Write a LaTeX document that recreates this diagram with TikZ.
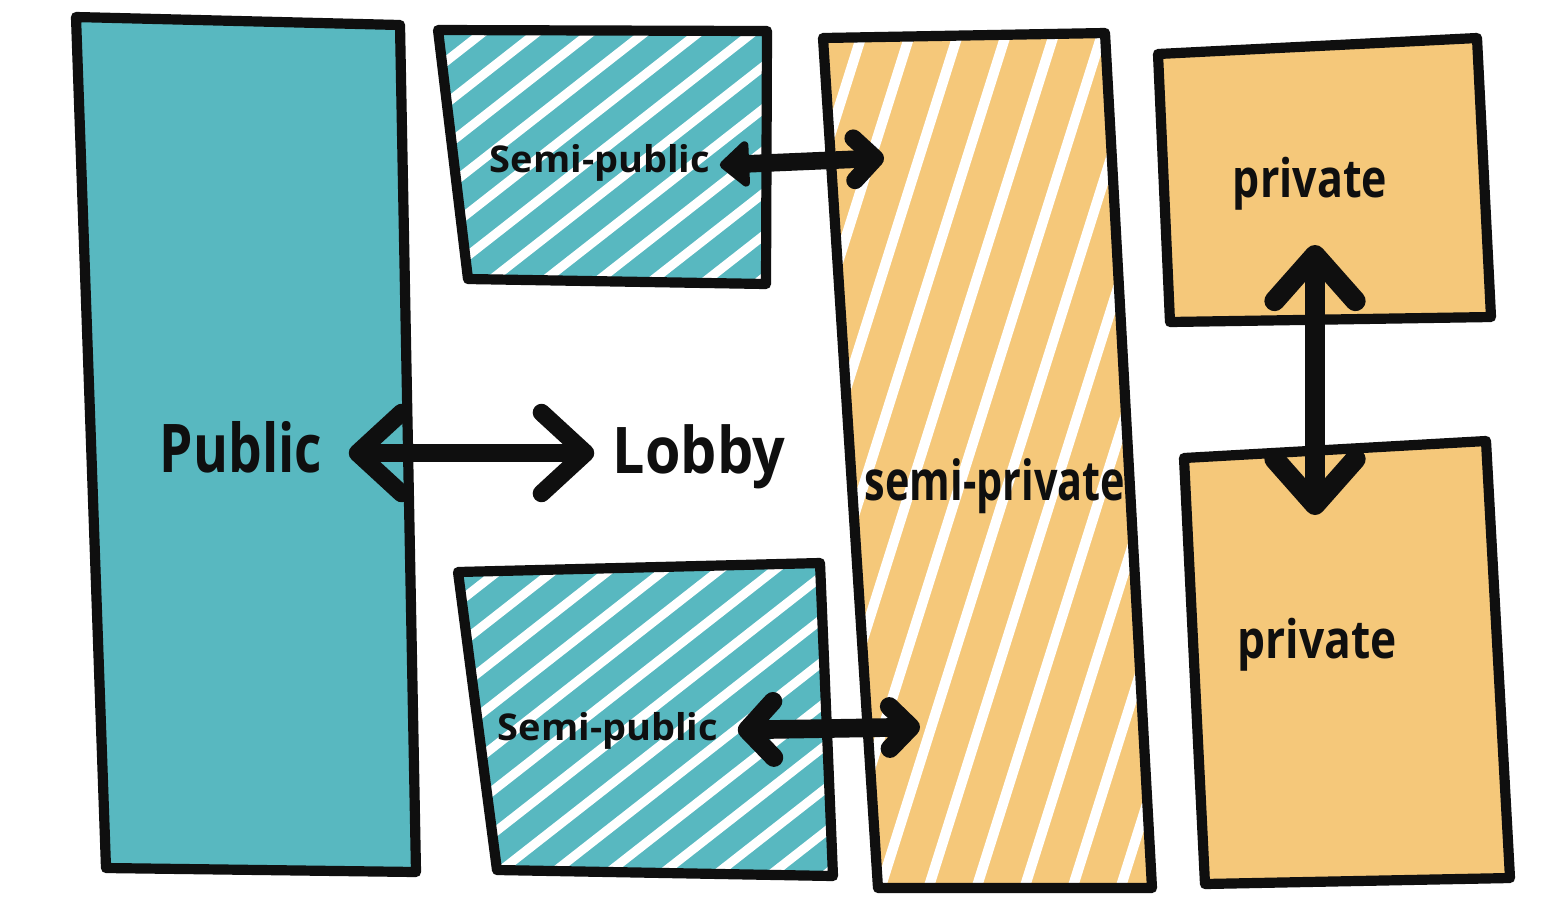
\documentclass[tikz,border=0pt]{standalone}
\usepackage{fontspec}
\setmainfont{Open Sans}
\usetikzlibrary{arrows.meta,calc}
\definecolor{tealfill}{RGB}{88,184,192}
\definecolor{orangefill}{RGB}{245,200,122}
\definecolor{ink}{RGB}{15,15,15}
\tikzset{
  outline/.style={draw=ink, line width=2.9pt, line join=round, line cap=round},
  stripe/.style={white, line width=2.6pt},
  lbl/.style={inner sep=0pt, anchor=base, text=ink, font=\bfseries},
  conn/.style={draw=ink, line width=5pt, line cap=round, line join=round},
}
\begin{document}
\begin{tikzpicture}[x=0.01cm, y=-0.01cm]
\useasboundingbox (0,0) rectangle (1542,899);
\fill[white] (0,0) rectangle (1542,899);

% corner coordinates
\coordinate (pu1) at (76,17);   \coordinate (pu2) at (400,25);
\coordinate (pu3) at (416,872); \coordinate (pu4) at (106,868);
\coordinate (sa1) at (438,30);  \coordinate (sa2) at (767,31);
\coordinate (sa3) at (766,284); \coordinate (sa4) at (468,279);
\coordinate (sb1) at (458,572); \coordinate (sb2) at (820,563);
\coordinate (sb3) at (833,876); \coordinate (sb4) at (497,870);
\coordinate (sp1) at (823,38);  \coordinate (sp2) at (1105,33);
\coordinate (sp3) at (1152,888);\coordinate (sp4) at (878,888);
\coordinate (pa1) at (1158,54); \coordinate (pa2) at (1477,38);
\coordinate (pa3) at (1491,317);\coordinate (pa4) at (1170,322);
\coordinate (pb1) at (1184,458);\coordinate (pb2) at (1486,441);
\coordinate (pb3) at (1510,878);\coordinate (pb4) at (1205,884);

% Public
\fill[tealfill] (pu1) -- (pu2) -- (pu3) -- (pu4) -- cycle;
% Semi-public top
\fill[tealfill] (sa1) -- (sa2) -- (sa3) -- (sa4) -- cycle;
\begin{scope}
  \clip (sa1) -- (sa2) -- (sa3) -- (sa4) -- cycle;
  \foreach \k in {-3,...,13} \draw[stripe] (320+54*\k,160) ++(-600,470) -- ++(1200,-940);
\end{scope}
% Semi-public bottom
\fill[tealfill] (sb1) -- (sb2) -- (sb3) -- (sb4) -- cycle;
\begin{scope}
  \clip (sb1) -- (sb2) -- (sb3) -- (sb4) -- cycle;
  \foreach \k in {-2,...,15} \draw[stripe] (308+55*\k,720) ++(-600,470) -- ++(1200,-940);
\end{scope}
% Semi-private
\fill[orangefill] (sp1) -- (sp2) -- (sp3) -- (sp4) -- cycle;
\begin{scope}
  \clip (sp1) -- (sp2) -- (sp3) -- (sp4) -- cycle;
  \foreach \k in {-2,...,13} \draw[stripe, line width=2.9pt] (858+48*\k,47) ++(60,-190) -- ++(-360,1140);
\end{scope}
% Private
\fill[orangefill] (pa1) -- (pa2) -- (pa3) -- (pa4) -- cycle;
\fill[orangefill] (pb1) -- (pb2) -- (pb3) -- (pb4) -- cycle;

% outlines
\draw[outline] (pu1) -- (pu2) -- (pu3) -- (pu4) -- cycle;
\draw[outline] (sa1) -- (sa2) -- (sa3) -- (sa4) -- cycle;
\draw[outline] (sb1) -- (sb2) -- (sb3) -- (sb4) -- cycle;
\draw[outline] (sp1) -- (sp2) -- (sp3) -- (sp4) -- cycle;
\draw[outline] (pa1) -- (pa2) -- (pa3) -- (pa4) -- cycle;
\draw[outline] (pb1) -- (pb2) -- (pb3) -- (pb4) -- cycle;

% labels
\node[lbl] (public) at (241,472) {\resizebox{1.62cm}{\height}{\fontsize{19.1}{22}\selectfont Public}};
\node[lbl] (lobby) at (699,473) {\resizebox{1.72cm}{\height}{\fontsize{18.3}{22}\selectfont Lobby}};
\node[lbl] (spub1) at (600,172) {\resizebox{2.20cm}{\height}{\fontsize{10.5}{12}\selectfont Semi-public}};
\node[lbl] (spub2) at (608,740) {\resizebox{2.20cm}{\height}{\fontsize{10.5}{12}\selectfont Semi-public}};
\node[lbl] (spriv) at (995,500) {\resizebox{2.60cm}{\height}{\fontsize{15.7}{18}\selectfont semi-private}};
\node[lbl] (priv1) at (1310,197) {\resizebox{1.54cm}{\height}{\fontsize{15.1}{18}\selectfont private}};
\node[lbl] (priv2) at (1317,658) {\resizebox{1.59cm}{\height}{\fontsize{15.1}{18}\selectfont private}};

% free ends inside semi-private
\coordinate (spvA) at (884,158);
\coordinate (spvB) at (920,727);

% connectors
\draw[conn, {Straight Barb[round,length=12.5pt,width=23pt]}-{Straight Barb[round,length=12.5pt,width=23pt]}]
  ($(public.base east)+(26,-19)$) -- ($(lobby.base west)+(-18,-20)$);
\draw[conn, {Triangle[round,length=9pt,width=15pt]}-{Straight Barb[round,length=6pt,width=12pt]}]
  ($(spub1.base east)+(9,-7)$) -- (spvA);
\draw[conn, line width=5.3pt, {Straight Barb[round,length=7.5pt,width=16pt]}-{Straight Barb[round,length=6pt,width=12pt]}]
  ($(spub2.base east)+(19,-10)$) -- (spvB);
\draw[conn, line width=5.8pt, {Straight Barb[round,length=13pt,width=23pt]}-{Straight Barb[round,length=13pt,width=23pt]}]
  ($(priv1.base)+(5,48)$) -- ($(priv2.base)+(-2,-143)$);
\end{tikzpicture}
\end{document}
